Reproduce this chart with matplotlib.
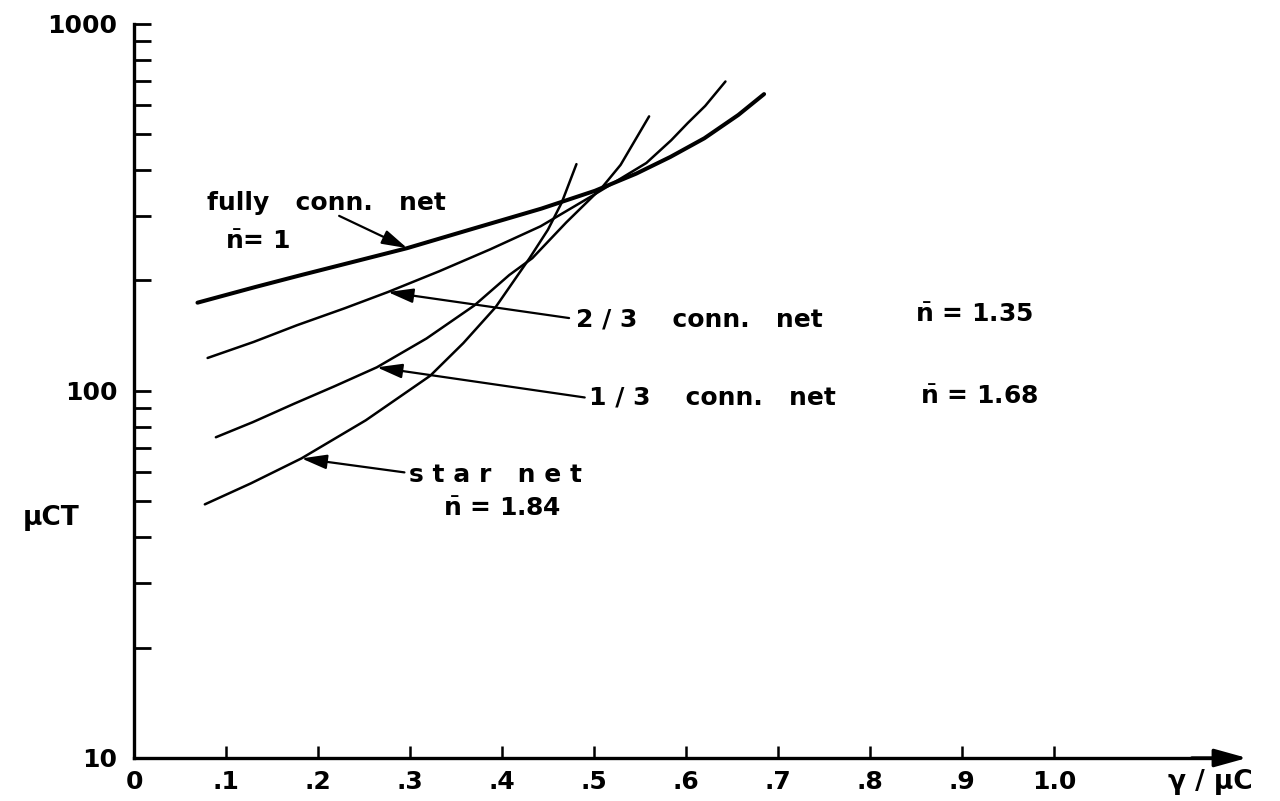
import numpy as np
import matplotlib.pyplot as plt
from matplotlib.ticker import FixedLocator, FixedFormatter, LogLocator, NullFormatter

# values: gamma/muC on x, muCT on y (log)
full_x = [0.069, 0.132, 0.182, 0.242, 0.297, 0.369, 0.443, 0.501, 0.546, 0.583, 0.620, 0.657, 0.685]
full_y = [174, 192, 207, 226, 245, 277, 314, 351, 391, 434, 488, 565, 644]

two3_x = [0.080, 0.130, 0.177, 0.229, 0.276, 0.332, 0.387, 0.442, 0.498, 0.557, 0.584, 0.602, 0.621, 0.643]
two3_y = [123, 136, 151, 168, 186, 212, 243, 281, 340, 418, 482, 537, 598, 697]

one3_x = [0.089, 0.129, 0.174, 0.218, 0.264, 0.318, 0.370, 0.408, 0.433, 0.470, 0.509, 0.529, 0.560]
one3_y = [74.8, 82.2, 92.3, 103, 116, 139, 171, 207, 230, 288, 359, 413, 560]

star_x = [0.077, 0.127, 0.182, 0.252, 0.322, 0.358, 0.393, 0.430, 0.450, 0.465, 0.481]
star_y = [49.1, 56.0, 65.5, 83.2, 110, 135, 169, 230, 275, 326, 415]

x_ticks = [0.0, 0.1, 0.2, 0.3, 0.4, 0.5, 0.6, 0.7, 0.8, 0.9, 1.0]
x_tick_labels = ["0", ".1", ".2", ".3", ".4", ".5", ".6", ".7", ".8", ".9", "1.0"]
y_ticks = [10, 100, 1000]
y_tick_labels = ["10", "100", "1000"]

plt.rcParams['font.family'] = ['DejaVu Sans']
plt.rcParams['mathtext.fontset'] = 'dejavusans'

fig = plt.figure(figsize=(12.8, 8.01), dpi=100)
ax = fig.add_axes([0.1047, 0.0537, 0.8695, 0.9164])

ax.set_yscale('log')
ax.set_xlim(0, 1.21)
ax.set_ylim(10, 1000)

# curves
ax.plot(full_x, full_y, color='black', lw=2.9, solid_capstyle='round')
ax.plot(two3_x, two3_y, color='black', lw=1.8, solid_capstyle='round')
ax.plot(one3_x, one3_y, color='black', lw=1.8, solid_capstyle='round')
ax.plot(star_x, star_y, color='black', lw=1.8, solid_capstyle='round')

# frame: only left and bottom, bottom ends in an arrow
for side in ['top', 'right']:
    ax.spines[side].set_visible(False)
ax.spines['left'].set_linewidth(2.4)
ax.spines['bottom'].set_linewidth(2.4)
ax.spines['bottom'].set_bounds(0, 1.17)
ax.annotate('', xy=(1.21, 0), xycoords=('data', 'axes fraction'),
            xytext=(1.15, 0), textcoords=('data', 'axes fraction'),
            arrowprops=dict(arrowstyle='-|>,head_length=0.9,head_width=0.25',
                            color='black', lw=2.4, mutation_scale=22,
                            shrinkA=0, shrinkB=0),
            annotation_clip=False)

# ticks
ax.xaxis.set_major_locator(FixedLocator(x_ticks))
ax.xaxis.set_major_formatter(FixedFormatter(x_tick_labels))
ax.yaxis.set_major_locator(FixedLocator(y_ticks))
ax.yaxis.set_major_formatter(FixedFormatter(y_tick_labels))
ax.yaxis.set_minor_locator(LogLocator(base=10, subs=np.arange(2, 10)))
ax.yaxis.set_minor_formatter(NullFormatter())
ax.tick_params(axis='x', which='major', direction='in', length=9, width=1.8,
               pad=9, labelsize=18)
ax.tick_params(axis='y', which='both', direction='in', length=12, width=2.0,
               pad=12, labelsize=18)
for lab in ax.get_xticklabels() + ax.get_yticklabels():
    lab.set_fontweight('bold')

# axis labels
ax.text(-0.09, 45, "\u03bcCT", fontsize=19, fontweight='bold',
        ha='center', va='center', clip_on=False)
ax.annotate("\u03b3 / \u03bcC", xy=(1.17, 10), xytext=(0, -17),
            textcoords='offset points', fontsize=19, fontweight='bold',
            ha='center', va='center', annotation_clip=False)

# curve labels with pointer arrows
lab_font = dict(fontsize=18, fontweight='bold', ha='left', va='center')
arrow = dict(arrowstyle='-|>,head_length=0.7,head_width=0.2', color='black',
             lw=1.6, mutation_scale=22, shrinkA=0, shrinkB=0)

ax.text(0.079, 325, "fully   conn.   net", **lab_font)
ax.text(0.099, 254, r"$\bar{\mathbf{n}}$= 1", **lab_font)
ax.annotate('', xy=(0.297, 245), xytext=(0.223, 300), arrowprops=arrow)

ax.text(0.480, 157, "2 / 3    conn.   net", **lab_font)
ax.text(0.849, 161, r"$\bar{\mathbf{n}}$ = 1.35", **lab_font)
ax.annotate('', xy=(0.276, 186), xytext=(0.473, 158), arrowprops=arrow)

ax.text(0.495, 96, "1 / 3    conn.   net", **lab_font)
ax.text(0.854, 96, r"$\bar{\mathbf{n}}$ = 1.68", **lab_font)
ax.annotate('', xy=(0.264, 116), xytext=(0.490, 96), arrowprops=arrow)

ax.text(0.299, 59.2, "s t a r   n e t", **lab_font)
ax.text(0.336, 47.8, r"$\bar{\mathbf{n}}$ = 1.84", **lab_font)
ax.annotate('', xy=(0.182, 65.5), xytext=(0.294, 60), arrowprops=arrow)

fig.savefig('out.png', dpi=100, facecolor='white')
